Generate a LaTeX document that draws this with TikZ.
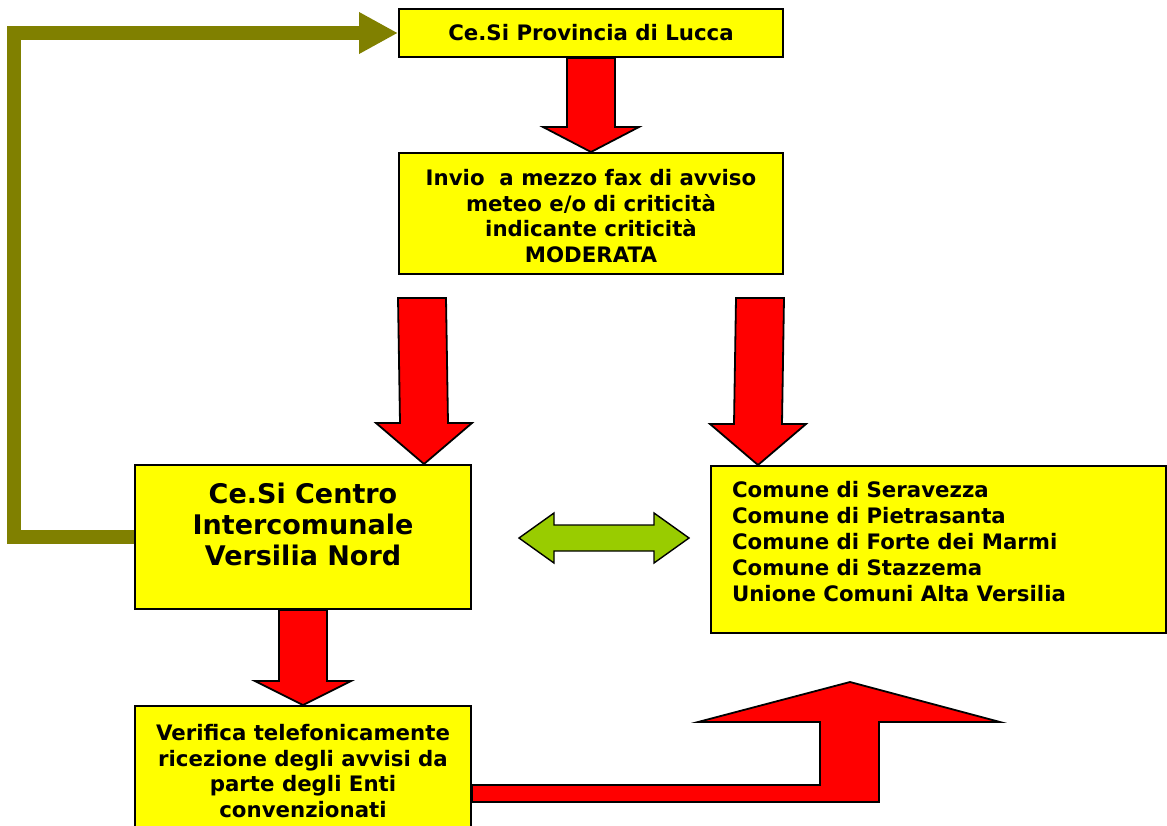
\documentclass[tikz,border=0pt]{standalone}
\usepackage{fontspec}
\setmainfont{DejaVu Sans}
\usetikzlibrary{arrows.meta,calc}
\definecolor{boxyellow}{HTML}{FFFF00}
\definecolor{arrowred}{HTML}{FF0000}
\definecolor{linkgreen}{HTML}{99CC00}
\definecolor{backolive}{HTML}{808000}
\begin{document}
\begin{tikzpicture}[x=1pt,y=-1pt,
    ente/.style={draw=black, line width=2pt, fill=boxyellow, inner sep=0pt, align=center,
      font=\fontsize{21.3}{25.9}\selectfont\bfseries},
    frecciarossa/.style={draw=black, line width=1.8pt, fill=arrowred, line join=miter},
    frecciaverde/.style={draw=black, line width=1.4pt, fill=linkgreen, line join=miter},
    ritorno/.style={draw=backolive, line width=14pt, line join=miter,
      -{Triangle[length=39pt,width=39pt]}}]
    \useasboundingbox (0,0) rectangle (1167,825);
    \clip (0,0) rectangle (1167,825);
    \node [ente, minimum width=384, minimum height=48] (lucca) at (591,33) {Ce.Si Provincia di Lucca};
    \node [ente, minimum width=384, minimum height=121, text height=99pt] (fax) at (591,213.5)
      {Invio\ \ a mezzo fax di avviso\\meteo e/o di criticità\\indicante criticità\\MODERATA};
    \node [ente, minimum width=336, minimum height=144, text depth=26pt,
      font=\fontsize{27}{31}\selectfont\bfseries] (centro) at (303,537)
      {Ce.Si Centro\\Intercomunale\\Versilia Nord};
    \node [ente, minimum width=455, minimum height=167, text depth=16pt] (comuni) at (938.5,549.5)
      {\parbox[b]{413pt}{Comune di Seravezza\\Comune di Pietrasanta\\Comune di Forte dei Marmi\\Comune di Stazzema\\Unione Comuni Alta Versilia}};
    \node [ente, minimum width=336, minimum height=130] (verifica) at (303,771)
      {Verifica telefonicamente\\ricezione degli avvisi da\\parte degli Enti\\convenzionati};
    % frecce rosse verso il basso
    \draw [frecciarossa] ($(lucca.south)+(-24,0)$) -- ($(fax.north)+(-24,-25)$) -- ($(fax.north)+(-48,-25)$)
      -- (fax.north) -- ($(fax.north)+(48,-25)$) -- ($(fax.north)+(24,-25)$) -- ($(lucca.south)+(24,0)$) -- cycle;
    \draw [frecciarossa] ($(fax.south west)+(0,23)$) -- ($(centro.north east)+(-72,-41)$) -- ($(centro.north east)+(-96,-41)$)
      -- ($(centro.north east)+(-48,0)$) -- ($(centro.north east)+(0,-41)$) -- ($(centro.north east)+(-24,-41)$)
      -- ($(fax.south west)+(48,23)$) -- cycle;
    \draw [frecciarossa] ($(fax.south east)+(-48,23)$) -- ($(comuni.north west)+(24,-41)$) -- ($(comuni.north west)+(0,-41)$)
      -- ($(comuni.north west)+(48,0)$) -- ($(comuni.north west)+(96,-41)$) -- ($(comuni.north west)+(72,-41)$)
      -- ($(fax.south east)+(0,23)$) -- cycle;
    \draw [frecciarossa] ($(centro.south)+(-24,0)$) -- ($(verifica.north)+(-24,-24)$) -- ($(verifica.north)+(-48,-24)$)
      -- (verifica.north) -- ($(verifica.north)+(48,-24)$) -- ($(verifica.north)+(24,-24)$) -- ($(centro.south)+(24,0)$) -- cycle;
    % freccia a L verso i comuni
    \draw [frecciarossa] (verifica.east |- 0,785) -- ++(348,0) -- ++(0,-63) -- ++(-122,0) -- ++(152,-40)
      -- ++(150,40) -- ++(-121,0) -- ++(0,80) -- (verifica.east |- 0,802) -- cycle;
    % scambio tra centro e comuni
    \coordinate (gL) at ($(centro.east)+(47,1)$);
    \coordinate (gR) at ($(centro.east)+(217,1)$);
    \draw [frecciaverde] (gL) -- ++(35,-25) -- ++(0,12) -- ++(100,0) -- ++(0,-12) -- (gR)
      -- ++(-35,25) -- ++(0,-12) -- ++(-100,0) -- ++(0,12) -- cycle;
    % ritorno alla provincia
    \draw [ritorno] (centro.west) -- ++(-120,0) |- (lucca.west);
\end{tikzpicture}
\end{document}
